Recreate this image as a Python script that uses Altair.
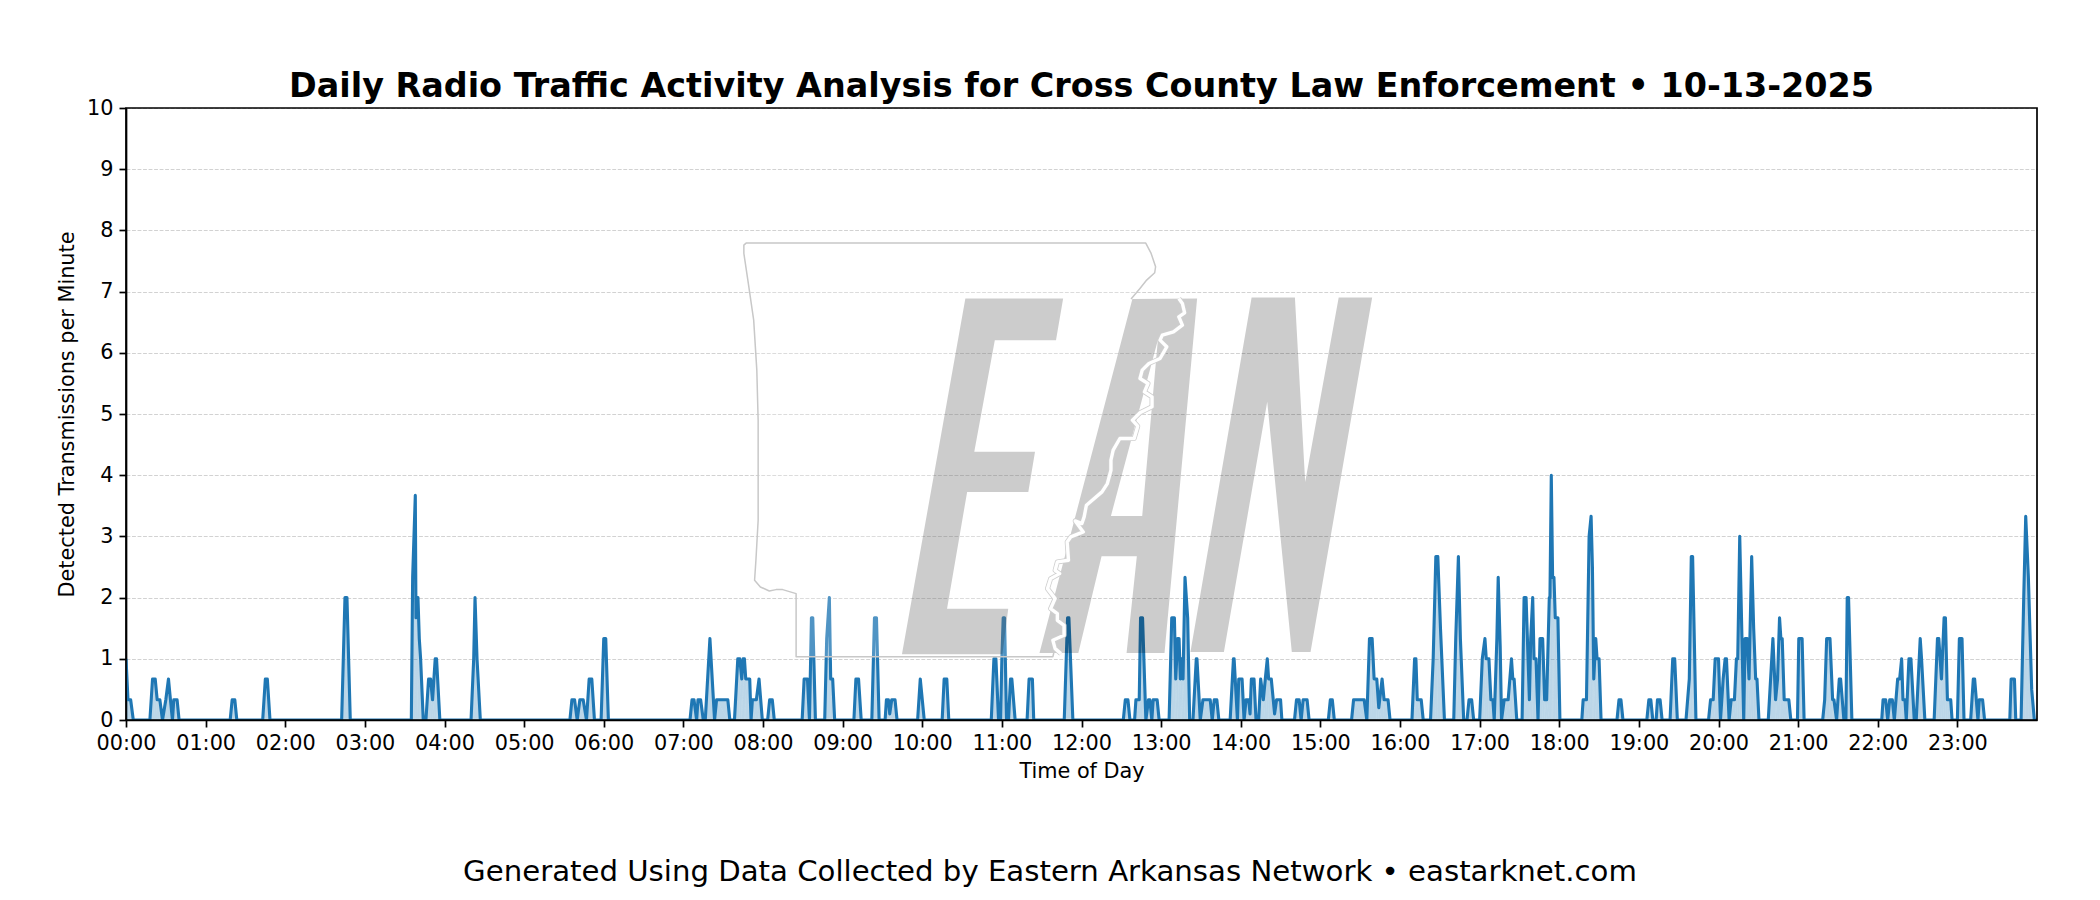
import altair as alt
import pandas as pd

# Detected transmissions per minute: (minute of day, value)
block_00_06 = [
    (0, 1), (1.5, .33), (3.5, .33), (5.5, 0), (18, 0), (20, .67), (22, .67), (23.5, .33), (25.5, .33), (27.5, 0),
    (30, .33), (32, .67), (33.5, .33), (35, 0), (36, .33), (38.5, .33), (40, 0), (78.5, 0), (80, .33), (82, .33),
    (83.5, 0), (103, 0), (105, .67), (106.5, .67), (108.5, 0), (162.5, 0), (165, 2), (166.5, 2), (169, 0), (215, 0),
    (216, 2.33), (218, 3.67), (218.5, 1.67), (220, 2), (221, 1.33), (222, 1), (224, 0), (226, 0), (228, .67),
    (229.5, .67), (231, .33), (233, 1), (234, 1), (236.5, 0), (260, 0), (262, 1), (263, 2), (264.5, 1), (267, 0),
    (334.5, 0), (336, .33), (338, .33), (340, 0), (342, .33), (344.5, .33), (347, 0), (349, .67), (351, .67), (353, 0),
    (358, 0), (360, 1.33), (361.5, 1.33), (363.5, 0),
]
block_06_12 = [
    (425, 0), (426.5, .33), (428, .33), (430, 0), (431, .33), (433, .33), (435, 0), (436.5, 0), (440, 1.33),
    (443.5, 0), (445, .33), (453.5, .33), (455, 0), (458.5, 0), (461, 1), (462.5, 1), (464, .67), (465, 1), (466, 1),
    (467, .67), (470, .67), (471, 0), (472, .33), (475, .33), (477, .67), (479.5, 0), (483.5, 0), (485, .33),
    (487, .33), (488.5, 0), (509.5, 0), (511, .67), (513.5, .67), (515, 0), (516.5, 1.67), (517.5, 1.67), (519.5, 0),
    (526.5, 0), (528, 1.33), (530, 2), (531, .67), (532.5, .67), (534, 0), (548.5, 0), (550, .67), (552, .67),
    (554, 0), (562, 0), (564, 1.67), (565.5, 1.67), (567.5, 0), (572, 0), (573, .33), (574.5, .33), (575.5, .1),
    (577, .33), (579.5, .33), (581, 0), (596.5, 0), (598.5, .67), (601.5, 0), (615, 0), (616.5, .67), (618.5, .67),
    (620, 0), (652, 0), (654, 1), (655.5, 1), (657.5, 0), (659, 0), (660, 1), (661, 1.67), (662, 1.67), (663.5, 0),
    (665, 0), (666.5, .67), (667.5, .67), (670, 0), (679, 0), (680.5, .67), (683, .67), (684, 0), (707, 0),
    (709.5, 1.67), (710.5, 1.67), (713.5, 0),
]
block_12_16 = [
    (751.5, 0), (753, .33), (755, .33), (756.5, 0), (760, 0), (761, .33), (763.5, .33), (764.5, 1.67), (766, 1.67),
    (768.5, 0), (770.5, .33), (771.5, .33), (773, 0), (774, .33), (777, .33), (778.5, 0), (786, 0), (788, 1.67),
    (790, 1.67), (791, .67), (792.5, 1.33), (793.5, 1.33), (794.5, .67), (795.5, 1), (796.5, .67), (798, 2.33),
    (800, 1.67), (801.5, 0), (804, 0), (806.5, 1), (807, 1), (809.5, 0), (811.5, .33), (817, .33), (818.5, 0),
    (820, .33), (822, .33), (823.5, 0), (832, 0), (834.5, 1), (835, 1), (837.5, 0), (838.5, .67), (841, .67),
    (842.5, 0), (844, .33), (846, .33), (847, .1), (848, .67), (850, .67), (851.5, 0), (853.5, 0), (855, .67),
    (857, .33), (858.5, .67), (860, 1), (861, .67), (863, .67), (864.5, .33), (865.5, .1), (867, .33), (870, .33),
    (871, 0), (880.5, 0), (882, .33), (884, .33), (885.5, 0), (887, .33), (890, .33), (891.5, 0), (906, 0),
    (907.5, .33), (909, .33), (910.5, 0), (923.5, 0), (925, .33), (933, .33), (935, 0), (937, 1.33), (939, 1.33),
    (940.5, .67), (942.5, .67), (944, .2), (946.5, .67), (948, .33), (951, .33), (952.5, 0),
]
block_16_19 = [
    (969, 0), (971, 1), (972, 1), (973, .33), (976, .33), (977.5, 0), (983, 0), (985, 1), (987, 2.67), (988.5, 2.67),
    (990.5, 1.5), (993.5, 0), (1000.5, 0), (1002, 1.33), (1004, 2.67), (1005.5, 1.33), (1008, 0), (1010.5, 0),
    (1012, .33), (1014, .33), (1015.5, 0), (1020, 0), (1022, 1), (1024, 1.33), (1025, 1), (1027, 1), (1028.5, .33),
    (1030, .33), (1031, 0), (1033, 1.33), (1034, 2.33), (1035.5, 1.2), (1036.5, 0), (1038.5, .33), (1041.5, .33),
    (1044, 1), (1045, .67), (1046, .67), (1048, 0), (1052, 0), (1053.5, 2), (1055, 2), (1057.5, .33), (1058.5, 1.33),
    (1060, 2), (1061, 1), (1062.5, 1), (1064, 0), (1065.5, 1.33), (1067.5, 1.33), (1069, .33), (1070.5, .33),
    (1072.5, 2), (1073, 2), (1074, 4), (1075, 2.33), (1076, 2.33), (1077, 1.67), (1079, 1.67), (1080.5, 0), (1097, 0),
    (1098, .33), (1100.5, .33), (1102.5, 3), (1104, 3.33), (1105, 2.5), (1106, .67), (1107.5, 1.33), (1108.5, 1),
    (1110, 1), (1111.5, 0), (1123.5, 0), (1125, .33), (1126.5, .33), (1128, 0),
]
block_19_24 = [
    (1146, 0), (1147.5, .33), (1149, .33), (1150.5, 0), (1153, 0), (1154, .33), (1156, .33), (1157.5, 0), (1163.5, 0),
    (1165.5, 1), (1167, 1), (1169, 0), (1175.5, 0), (1178, .67), (1179.5, 2.67), (1180.5, 2.67), (1183, 0),
    (1192.5, 0), (1194, .33), (1196, .33), (1197.5, 1), (1200, 1), (1201.5, 0), (1203.5, .67), (1205, 1), (1206, 1),
    (1208, 0), (1209.5, .33), (1212, .33), (1213.5, 1), (1214.5, 1), (1216, 3), (1217, 2), (1219, 0), (1220, 1.33),
    (1221.5, 1.33), (1223, .67), (1225, 2.67), (1226.5, 1.5), (1228, .67), (1229, .67), (1230.5, 0), (1237.5, 0),
    (1241, 1.33), (1243, .33), (1244.5, .67), (1246, 1.67), (1247, 1.33), (1248, 1.33), (1249.5, .33), (1253, .33),
    (1254.5, 0), (1259.5, 0), (1260.5, 1.33), (1263, 1.33), (1264.5, 0), (1278.5, 0), (1280, .33), (1281.5, 1.33),
    (1284, 1.33), (1286, .33), (1287, .33), (1289, 0), (1291, .67), (1292, .67), (1294.5, 0), (1296, 0), (1297, 2),
    (1298, 2), (1300.5, 0), (1323, 0), (1324, .33), (1326, .33), (1327.5, 0), (1329, .33), (1331, .33), (1332.5, 0),
    (1335, .67), (1336.5, .67), (1338, 1), (1339, .33), (1340.5, .33), (1341.5, 0), (1343.5, 1), (1345, 1),
    (1347.5, 0), (1349, 0), (1352, 1.33), (1353, 1), (1355.5, 0), (1362.5, 0), (1365, 1.33), (1366, 1.33), (1368, .67),
    (1370, 1.67), (1371, 1.67), (1372.5, .33), (1375, .33), (1376, 0), (1380, 0), (1381.5, 1.33), (1383.5, 1.33),
    (1385, 0), (1390, 0), (1392, .67), (1393, .67), (1395.5, 0), (1396.5, .33), (1399, .33), (1400.5, 0), (1419.5, 0),
    (1420.5, .67), (1423, .67), (1424, 0), (1428, 0), (1430, 2), (1431.5, 3.33), (1433.5, 2.33), (1436, .5), (1438, 0),
    (1440, 0),
]

hour_ticks = list(range(0, 1440, 60))
value_ticks = list(range(0, 11))

TITLE = "Daily Radio Traffic Activity Analysis for Cross County Law Enforcement \u2022 10-13-2025"
FOOTER = "Generated Using Data Collected by Eastern Arkansas Network \u2022 eastarknet.com"
BLUE = "#1f77b4"

# Watermark outlines, in the watermark's own drawing units
logo_E = [(594, 235), (813, 235), (797, 360), (660, 360), (614, 695), (750, 695), (735, 815), (598, 815), (553, 1165),
          (690, 1165), (677, 1302), (452, 1302)]
logo_A = [(968, 237), (1113, 235), (1040, 1298), (955, 1298), (978, 1008), (899, 1008), (847, 1298), (760, 1298),
          (920, 887), (990, 887), (1025, 360), (920, 887), (760, 1298)]
logo_N = [(1235, 232), (1332, 232), (1355, 785), (1430, 232), (1505, 232), (1367, 1295), (1325, 1295), (1270, 545),
          (1173, 1295), (1098, 1295)]
logo_border = [(965, 237), (985, 205), (1000, 180), (1018, 158), (1020, 140), (1010, 100), (998, 69), (103, 69),
               (98, 75), (98, 100), (108, 190), (120, 300), (127, 450), (130, 600), (130, 900), (125, 1020),
               (122, 1080), (135, 1100), (155, 1112), (170, 1108), (185, 1108), (215, 1120), (215, 1309), (790, 1309),
               (792, 1298)]
logo_river = [(1072, 235), (1080, 250), (1085, 278), (1072, 290), (1080, 315), (1060, 335), (1035, 345), (1030, 360),
              (1045, 380), (1030, 415), (1005, 430), (990, 450), (985, 475), (1003, 490), (995, 515), (1012, 530),
              (1012, 560), (985, 578), (968, 600), (980, 618), (972, 655), (940, 655), (925, 690), (920, 720),
              (920, 750), (912, 790), (900, 815), (865, 855), (860, 890), (855, 910), (840, 902), (858, 935),
              (830, 950), (822, 965), (825, 1020), (800, 1025), (795, 1050), (805, 1060), (785, 1075), (778, 1105),
              (795, 1135), (785, 1165), (800, 1180), (800, 1200), (815, 1215), (815, 1245), (790, 1260), (795, 1285),
              (808, 1300)]


def logo_frame(points):
    # places the watermark on the chart's minute / value axes
    return pd.DataFrame({
        "minute": [432.6 + p[0] * 0.3365 for p in points],
        "value": [8.169 - p[1] * 0.00545 for p in points],
        "n": list(range(len(points))),
    })


traffic = pd.DataFrame(block_00_06 + block_06_12 + block_12_16 + block_16_19 + block_19_24,
                       columns=["minute", "value"])
traffic["n"] = range(len(traffic))

x_scale = alt.Scale(domain=[0, 1440], nice=False, zero=False)
y_scale = alt.Scale(domain=[0, 10], nice=False)
x_axis = alt.Axis(values=hour_ticks, title="Time of Day",
                  labelExpr="(floor(datum.value/60) < 10 ? '0' : '') + floor(datum.value/60) + ':00'",
                  grid=False, labelAngle=0, titlePadding=9, labelOverlap=False, labelFlush=False, labelBound=False)
y_axis = alt.Axis(values=value_ticks, title="Detected Transmissions per Minute", grid=True,
                  gridColor="#d2d2d2", gridDash=[3.85, 1.67], gridWidth=1.04, titlePadding=9,
                  labelOverlap=False, labelFlush=False, labelBound=False)
X = alt.X("minute:Q", scale=x_scale, axis=x_axis)
Y = alt.Y("value:Q", scale=y_scale, axis=y_axis)
ORDER = alt.Order("n:Q")

area = alt.Chart(traffic).mark_area(color=BLUE, opacity=0.3, clip=True, interpolate="linear").encode(
    x=X, y=Y, order=ORDER)
line = alt.Chart(traffic).mark_line(color=BLUE, strokeWidth=3.1, strokeJoin="round", clip=True).encode(
    x=X, y=Y, order=ORDER)


def polygon(frame, fill, opacity):
    return alt.Chart(frame).mark_line(filled=True, color=fill, opacity=opacity, strokeWidth=0).encode(
        x=X, y=Y, order=ORDER)


def path(frame, stroke, width, opacity=1.0):
    return alt.Chart(frame).mark_line(color=stroke, strokeWidth=width, opacity=opacity, strokeJoin="round").encode(
        x=X, y=Y, order=ORDER)


state_fill = polygon(logo_frame(logo_border + logo_river[::-1]), "white", 0.22)
letters = [polygon(logo_frame(p), "black", 0.2) for p in (logo_E, logo_A, logo_N)]
border = path(logo_frame(logo_border), "#c8c8c8", 1.5)
river_edge = path(logo_frame(logo_river), "#cfcfcf", 5)
river = path(logo_frame(logo_river), "white", 3.4)

footer = alt.Chart(pd.DataFrame({"t": [FOOTER]})).mark_text(
    font="DejaVu Sans", fontSize=29.2, color="black", align="center", baseline="middle"
).encode(text="t:N", x=alt.value(924), y=alt.value(764))

# plot frame drawn above the grid, as in the reference
frame = alt.Chart(pd.DataFrame({"f": [0]})).mark_rect(
    fillOpacity=0, stroke="black", strokeWidth=1.7
).encode(x=alt.value(0), x2=alt.value(1911), y=alt.value(0), y2=alt.value(612))

chart = alt.layer(area, line, state_fill, *letters, border, river_edge, river, footer, frame).properties(
    width=1911,
    height=612,
    background="white",
    title=alt.TitleParams(TITLE, font="DejaVu Sans", fontSize=33.4, fontWeight="bold", color="black",
                          anchor="middle", offset=-7),
    padding={"left": 118, "top": 100, "right": 50, "bottom": 170},
    autosize=alt.AutoSizeParams(type="none"),
).configure_view(stroke=None, fill="white").configure_axis(
    labelFont="DejaVu Sans", labelFontSize=20.8, labelColor="black",
    titleFont="DejaVu Sans", titleFontSize=20.8, titleFontWeight="normal", titleColor="black",
    domainColor="black", domainWidth=1.7, tickColor="black", tickWidth=1.7, tickSize=7,
    labelPadding=6,
)

chart.save("out.html", embed_options={"renderer": "svg", "actions": False})
